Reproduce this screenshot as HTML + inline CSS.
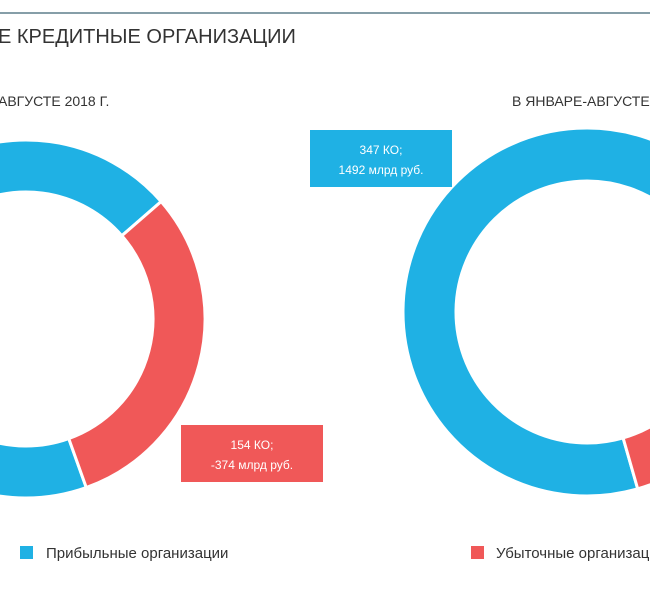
<!DOCTYPE html>
<html><head><meta charset="utf-8"><style>
body{margin:0;width:650px;height:600px;overflow:hidden;background:#fff;font-family:"Liberation Sans Narrow","Liberation Sans",sans-serif;}
svg text{font-family:"Liberation Sans Narrow","Liberation Sans",sans-serif;}
</style></head><body>
<svg id="c" width="650" height="600">
<line x1="0" y1="13" x2="650" y2="13" stroke="#5f7f8c" stroke-width="1.5"/>
<text x="-2" y="43" font-size="20" fill="#333">Е КРЕДИТНЫЕ ОРГАНИЗАЦИИ</text>
<text x="-2" y="106" font-size="14" fill="#333">АВГУСТЕ 2018 Г.</text>
<text x="512" y="106" font-size="14" fill="#333">В ЯНВАРЕ-АВГУСТЕ</text>
<g id="donuts"></g>
<rect x="310" y="130" width="142" height="57" fill="#1fb1e4"/>
<text x="381" y="154" font-size="12" fill="#fff" text-anchor="middle">347 КО;</text>
<text x="381" y="174" font-size="12" fill="#fff" text-anchor="middle">1492 млрд руб.</text>
<rect x="181" y="425" width="142" height="57" fill="#f05858"/>
<text x="252" y="449" font-size="12" fill="#fff" text-anchor="middle">154 КО;</text>
<text x="252" y="469" font-size="12" fill="#fff" text-anchor="middle">-374 млрд руб.</text>
<rect x="20" y="546" width="13" height="13" fill="#1fb1e4"/>
<text x="46" y="558" font-size="15" fill="#333">Прибыльные организации</text>
<rect x="471" y="546" width="13" height="13" fill="#f05858"/>
<text x="496" y="558" font-size="15" fill="#333">Убыточные организации</text>
</svg>
<script>
const categories=["Прибыльные","Убыточные"];
const leftValues=[344,154];
const rightValues=[347,137];
const colors=["#1fb1e4","#f05858"];
const g=document.getElementById('donuts');
function pt(cx,cy,r,a){const t=a*Math.PI/180;return [cx+r*Math.sin(t),cy-r*Math.cos(t)];}
function arc(cx,cy,ro,ri,a0,a1){
 const L=(a1-a0)>180?1:0;const p1=pt(cx,cy,ro,a0),p2=pt(cx,cy,ro,a1),p3=pt(cx,cy,ri,a1),p4=pt(cx,cy,ri,a0);
 return `M${p1}A${ro},${ro} 0 ${L} 1 ${p2}L${p3}A${ri},${ri} 0 ${L} 0 ${p4}Z`;}
function donut(vals,cx,cy,ro,ri,lossStart,name){
 const tot=vals[0]+vals[1];const lossSpan=vals[1]/tot*360;
 const segs=[[lossStart+lossSpan,lossStart+360,0],[lossStart,lossStart+lossSpan,1]];
 segs.forEach(s=>{const p=document.createElementNS('http://www.w3.org/2000/svg','path');
  p.setAttribute('d',arc(cx,cy,ro,ri,s[0],s[1]));p.setAttribute('fill',colors[s[2]]);
  p.setAttribute('stroke','#fff');p.setAttribute('stroke-width','3');
  
  
  g.appendChild(p);});}
donut(leftValues,26,319,179,127,49,'left-donut');
const rTot=rightValues[0]+rightValues[1];
donut(rightValues,587,312,184,131,164-rightValues[1]/rTot*360,'right-donut');
</script>
</body></html>
